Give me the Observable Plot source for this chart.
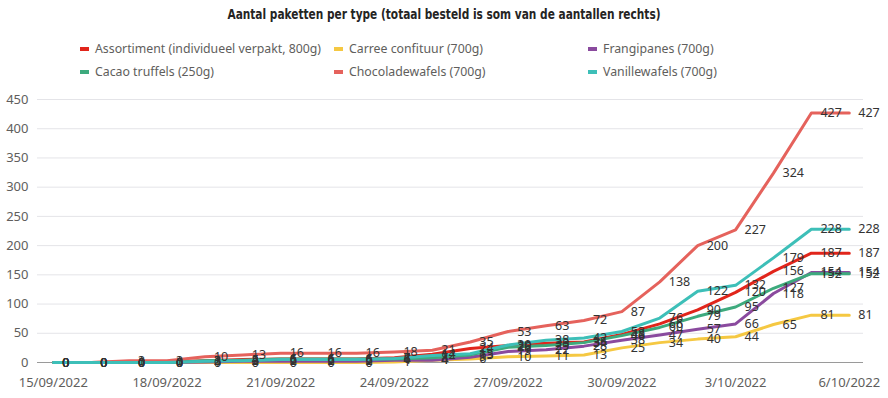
<!DOCTYPE html>
<html><head><meta charset="utf-8">
<script src="https://cdn.jsdelivr.net/npm/d3@7"></script>
<script src="https://cdn.jsdelivr.net/npm/@observablehq/plot@0.6"></script>
<style>
body{margin:0;background:#fff;font-family:"Segoe UI","Noto Sans",sans-serif;}
#wrap{position:relative;width:888px;height:398px;overflow:hidden;}
#title{position:absolute;left:0;top:6px;width:888px;text-align:center;font-weight:bold;font-size:14px;font-family:"Liberation Sans Narrow","DejaVu Sans Condensed",sans-serif;color:#252423;transform:scaleX(0.84);transform-origin:444px 0;}
.leg{position:absolute;font-size:12.3px;line-height:16px;color:#605E5C;white-space:nowrap;}
.sw{display:inline-block;width:9px;height:4px;margin-right:6px;vertical-align:middle;position:relative;top:-1px;}
#chart{position:absolute;left:0;top:85px;}
</style></head>
<body>
<div id="wrap">
  <div id="title">Aantal paketten per type (totaal besteld is som van de aantallen rechts)</div>
  <div id="legend"></div>
  <div id="chart"></div>
</div>
<script>
const dates = ["2022-09-15","2022-09-16","2022-09-17","2022-09-18","2022-09-19","2022-09-20","2022-09-21","2022-09-22","2022-09-23","2022-09-24","2022-09-25","2022-09-26","2022-09-27","2022-09-28","2022-09-29","2022-09-30","2022-10-01","2022-10-02","2022-10-03","2022-10-04","2022-10-05","2022-10-06"];
const seriesNames = ["Assortiment (individueel verpakt, 800g)","Carree confituur (700g)","Frangipanes (700g)","Cacao truffels (250g)","Chocoladewafels (700g)","Vanillewafels (700g)"];
const seriesColors = ["#E1251B","#F5C842","#8A4A9E","#3DAA7D","#E5625C","#3DBFB8"];
const assortiment = [0,0,1,1,3,5,6,6,6,8,14,24,29,33,35,48,66,90,120,156,187,187];
const carree      = [0,0,0,0,0,0,0,0,0,1,4,6,10,11,13,25,34,40,44,65,81,81];
const frangipanes = [0,0,0,0,1,2,2,2,2,4,4,9,19,22,28,38,47,57,66,118,154,154];
const cacao       = [0,0,0,0,3,4,6,6,6,6,8,13,26,29,34,46,60,79,95,127,152,152];
const chocolade   = [0,0,3,3,10,13,16,16,16,18,21,35,53,63,72,87,138,200,227,324,427,427];
const vanille     = [0,0,0,0,2,3,5,5,5,7,12,15,30,38,42,53,76,122,132,179,228,228];
const yTicks = [0,50,100,150,200,250,300,350,400,450];
const xTicks = ["2022-09-15","2022-09-18","2022-09-21","2022-09-24","2022-09-27","2022-09-30","2022-10-03","2022-10-06"];

const parse = d3.utcParse("%Y-%m-%d");
const values = [assortiment, carree, frangipanes, cacao, chocolade, vanille];
const rows = [];
seriesNames.forEach((name, s) => {
  values[s].forEach((v, i) => rows.push({series: name, date: parse(dates[i]), value: v}));
});
const fmt = d => `${d.getUTCDate()}/${String(d.getUTCMonth()+1).padStart(2,"0")}/${d.getUTCFullYear()}`;
const first = parse(dates[0]), last = parse(dates[dates.length-1]);
const x0 = d3.utcHour.offset(first, -10), x1 = d3.utcHour.offset(last, 9.5);

// legend
const legPos = [[80,41],[334,41],[588,41],[80,64],[334,64],[588,64]];
const legend = document.getElementById("legend");
seriesNames.forEach((n,i) => {
  const div = document.createElement("div");
  div.className = "leg";
  div.style.left = legPos[i][0] + "px";
  div.style.top = legPos[i][1] + "px";
  div.innerHTML = `<span class="sw" style="background:${seriesColors[i]}"></span>${n}`;
  legend.appendChild(div);
});

const chart = Plot.plot({
  width: 888, height: 313,
  marginLeft: 37, marginRight: 25, marginTop: 14, marginBottom: 36,
  style: {fontFamily: '"Segoe UI","Noto Sans",sans-serif', fontSize: "13px", color: "#605E5C", background: "transparent"},
  x: {type: "utc", domain: [x0, x1]},
  y: {domain: [0, 450]},
  color: {domain: seriesNames, range: seriesColors},
  marks: [
    Plot.ruleY(yTicks.slice(1), {stroke: "#E4E4E8", strokeWidth: 1}),
    Plot.ruleY([0], {stroke: "#9A9A9A", strokeWidth: 1}),
    Plot.axisY({ticks: yTicks, tickSize: 0, tickPadding: 9, label: null, fill: "#605E5C"}),
    Plot.axisX({ticks: xTicks.map(parse), tickSize: 0, tickPadding: 15, tickFormat: fmt, label: null, fill: "#605E5C"}),
    Plot.line(rows, {x: "date", y: "value", stroke: "series", z: "series", strokeWidth: 3, strokeLinejoin: "round"}),
    Plot.text(rows, {x: "date", y: "value", text: d => String(d.value), dx: 9, textAnchor: "start", fill: "#333", fontSize: 12.5})
  ]
});
document.getElementById("chart").appendChild(chart);
</script>
</body></html>
